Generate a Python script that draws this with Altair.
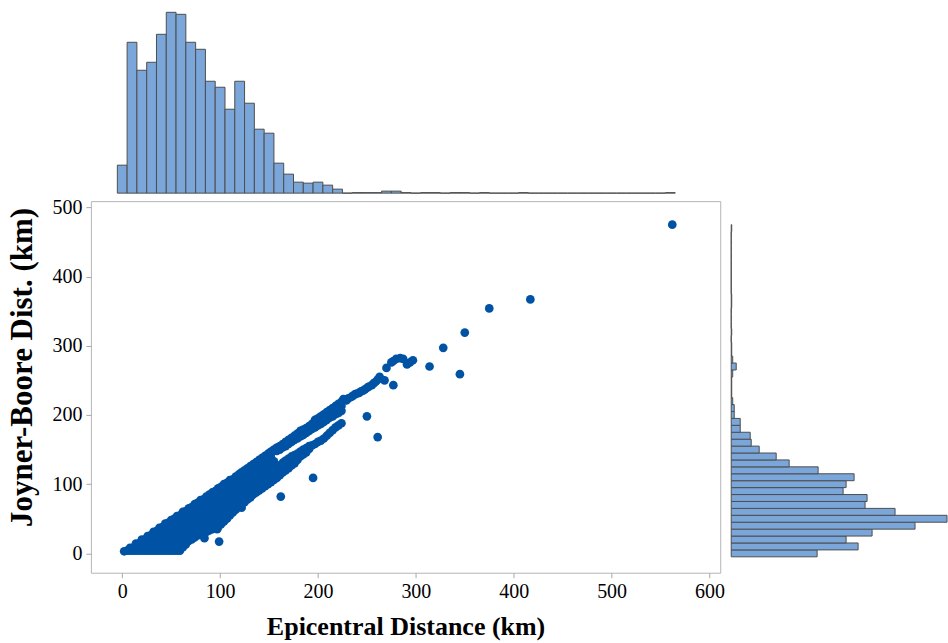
import altair as alt
import pandas as pd

# ---------------- data ----------------
# Dense band of records: epicentral distance column -> Joyner-Boore distances
BAND_REPI = [2, 5, 8, 14, 20, 26, 32, 38, 44, 50, 56, 62, 68, 74, 80, 86, 92, 98,
             104, 110, 116, 122, 128, 134, 140, 146, 152, 158, 164, 170, 176, 182,
             188, 194, 200, 206, 212, 218, 224]
BAND_JB = [
    [3], [4], [4, 8], [4, 10, 14], [4, 11, 18, 20], [4, 11, 18, 25],
    [4, 11, 18, 25, 31], [4, 11, 18, 25, 32, 37], [4, 11, 18, 25, 32, 39, 43],
    [4, 11, 18, 25, 32, 39, 45, 48], [4, 11, 18, 25, 32, 39, 46, 51, 54],
    [9, 16, 23, 30, 37, 44, 51, 56, 60], [18, 25, 32, 39, 46, 53, 60, 65],
    [23, 30, 37, 44, 51, 58, 65, 71], [28, 35, 42, 49, 56, 63, 70, 77],
    [31, 38, 45, 52, 59, 66, 73, 79, 82], [35, 42, 49, 56, 63, 70, 77, 84, 88],
    [38, 45, 52, 59, 66, 73, 80, 87, 94], [46, 53, 60, 67, 74, 81, 88, 95, 100],
    [55, 62, 69, 76, 83, 90, 97, 103, 106], [63, 70, 77, 84, 91, 98, 105, 111],
    [71, 78, 85, 92, 99, 106, 113, 117], [78, 85, 92, 99, 106, 113, 119, 123],
    [85, 92, 99, 106, 113, 120, 126, 129], [91, 98, 105, 112, 119, 126, 131, 135],
    [97, 104, 111, 118, 125, 132, 138, 141], [103, 110, 117, 124, 131, 138, 144, 147],
    [109, 116, 122, 127, 148, 153], [117, 124, 131, 153, 158],
    [123, 130, 137, 158, 164], [130, 137, 142, 164, 170], [140, 147, 169, 177],
    [146, 152, 174, 181], [156, 180, 187], [161, 185, 191, 195],
    [166, 190, 196, 201], [174, 196, 202, 207], [182, 201, 207, 213],
    [188, 206, 213, 219],
]
# Records lying between the columns above (fill the dense core)
CORE_REPI = [11, 17, 23, 29, 35, 41, 47, 53, 59, 65, 71, 77, 83, 89, 95, 101,
             107, 113, 119, 125, 131, 137, 143, 149, 155, 161, 167, 173, 179,
             185, 191, 197, 203, 209, 215, 221]
CORE_JB = [
    [4, 8], [4, 8, 14], [4, 8, 14, 20], [4, 8, 14, 21, 26], [4, 8, 14, 21, 28, 32],
    [4, 8, 14, 21, 28, 35, 38], [4, 8, 14, 21, 28, 35, 42, 44],
    [4, 8, 14, 21, 28, 35, 42, 48, 50], [4, 8, 14, 21, 28, 35, 42, 49, 55],
    [13, 20, 27, 34, 41, 48, 55, 61], [20, 27, 34, 41, 48, 55, 62, 67],
    [26, 33, 40, 47, 54, 61, 68, 73], [29, 36, 43, 50, 57, 64, 71, 78],
    [33, 40, 47, 54, 61, 68, 75, 82, 85], [36, 43, 50, 57, 64, 71, 78, 85, 90],
    [42, 49, 56, 63, 70, 77, 84, 91, 96], [50, 57, 64, 71, 78, 85, 92, 99, 102],
    [59, 66, 73, 80, 87, 94, 101, 107], [67, 74, 81, 88, 95, 102, 109, 114],
    [74, 81, 88, 95, 102, 109, 116, 120], [81, 88, 95, 102, 109, 116, 123, 126],
    [88, 95, 102, 109, 116, 123, 129, 132], [94, 101, 108, 115, 122, 129, 135, 138],
    [100, 107, 114, 121, 128, 135, 141, 144], [106, 113, 120, 127, 133, 150],
    [113, 120, 126, 150, 155], [120, 127, 134, 155, 161], [127, 134, 140, 161, 167],
    [135, 144, 166, 173], [143, 150, 171, 179], [151, 155, 177, 184],
    [158, 182, 189, 193], [163, 187, 194, 198], [170, 193, 199, 204],
    [178, 198, 205, 210], [185, 203, 210, 216],
]
# Upper strand beyond the dense band
STRAND_REPI = [226, 229, 231, 234, 236, 238, 240, 242, 244, 246, 248, 250, 252,
               255, 257, 259, 261, 263, 268, 277, 270, 275, 277, 280, 284, 287,
               291, 294, 297]
STRAND_JB = [223, 221, 224, 226, 228, 230, 231, 232, 234, 235, 237, 239, 241,
             243, 246, 248, 251, 255, 250, 243, 268, 276, 278, 281, 282, 281,
             273, 276, 279]
# Isolated records
OUTLIER_REPI = [314, 328, 345, 350, 375, 417, 562, 250, 261, 195, 162, 99, 84, 97, 122]
OUTLIER_JB = [270, 297, 259, 319, 354, 367, 475, 198, 168, 109, 82, 17, 22, 35, 66]

# Marginal histograms (10-km bins centred on multiples of 10)
REPI_BIN_CENTERS = list(range(0, 570, 10))
REPI_COUNTS = [56, 302, 246, 262, 318, 362, 358, 302, 288, 224,
               212, 168, 224, 180, 128, 120, 60, 38, 22, 20,
               22, 16, 8, 0, 1, 1, 1, 4, 4, 1,
               0, 1, 1, 0, 1, 1, 0, 1, 0, 0,
               0, 1, 0, 0, 0, 0, 0, 0, 0, 0,
               0, 0, 0, 0, 0, 0, 1]
JB_BIN_CENTERS = list(range(0, 480, 10))
JB_COUNTS = [172, 254, 230, 282, 368, 432, 328, 268, 272, 224,
             230, 246, 174, 116, 90, 56, 40, 38, 18, 18,
             6, 6, 3, 1, 1, 1, 3, 10, 3, 1,
             1, 0, 1, 0, 0, 0, 1, 1, 0, 0,
             0, 0, 0, 0, 0, 0, 0, 1]

# ---------------- tables ----------------
rows = []
for r, jbs in zip(BAND_REPI, BAND_JB):
    for j in jbs:
        rows.append((r, j))
for r, jbs in zip(CORE_REPI, CORE_JB):
    for j in jbs:
        rows.append((r, j))
rows += list(zip(STRAND_REPI, STRAND_JB))
rows += list(zip(OUTLIER_REPI, OUTLIER_JB))
scatter_df = pd.DataFrame(rows, columns=["repi", "jb"])

top_df = pd.DataFrame({"c": REPI_BIN_CENTERS, "count": REPI_COUNTS})
top_df["lo"] = top_df["c"] - 5
top_df["hi"] = top_df["c"] + 5
top_df["zero"] = 0

right_df = pd.DataFrame({"c": JB_BIN_CENTERS, "count": JB_COUNTS})
right_df["lo"] = right_df["c"] - 5
right_df["hi"] = right_df["c"] + 5
right_df["zero"] = 0

# ---------------- styling ----------------
SERIF = "Liberation Serif"
BLUE = "#0053a4"
HIST_FILL = "#7ba6da"
HIST_EDGE = "#4d4d4d"

x_scale = alt.Scale(domain=[-32, 611], nice=False, zero=False)
y_scale = alt.Scale(domain=[-28, 509], nice=False, zero=False)

axis_common = dict(
    grid=False, domain=False, tickColor="#a8a8a8", tickSize=5, labelPadding=4,
    labelFont=SERIF, labelFontSize=20, labelColor="black", labelFlush=False,
    titleFont=SERIF, titleFontWeight="bold", titleColor="black",
)

main = alt.Chart(scatter_df).mark_circle(size=76, opacity=1, color=BLUE).encode(
    x=alt.X("repi:Q", scale=x_scale,
            axis=alt.Axis(values=[0, 100, 200, 300, 400, 500, 600],
                          title="Epicentral Distance (km)", titleFontSize=26,
                          titlePadding=12, **axis_common)),
    y=alt.Y("jb:Q", scale=y_scale,
            axis=alt.Axis(values=[0, 100, 200, 300, 400, 500],
                          title="Joyner-Boore Dist. (km)", titleFontSize=31,
                          titlePadding=13, titleY=166, **axis_common)),
).properties(width=630, height=372,
             view=alt.ViewConfig(stroke="#b5b5b5", strokeWidth=1))

top = alt.Chart(top_df).mark_rect(fill=HIST_FILL, stroke=HIST_EDGE, strokeWidth=1).encode(
    x=alt.X("lo:Q", scale=x_scale, axis=None),
    x2="hi:Q",
    y=alt.Y("zero:Q", scale=alt.Scale(domain=[0, 384], nice=False), axis=None),
    y2="count:Q",
).properties(width=630, height=192, view=alt.ViewConfig(stroke="transparent"))

right = alt.Chart(right_df).mark_rect(fill=HIST_FILL, stroke=HIST_EDGE, strokeWidth=1).encode(
    y=alt.Y("lo:Q", scale=y_scale, axis=None),
    y2="hi:Q",
    x=alt.X("zero:Q", scale=alt.Scale(domain=[0, 432], nice=False), axis=None),
    x2="count:Q",
).properties(width=216, height=372, view=alt.ViewConfig(stroke="transparent"))

bottom = alt.hconcat(main, right, spacing=11, bounds="flush").resolve_scale(
    x="independent", y="independent")

chart = alt.vconcat(top, bottom, spacing=8, bounds="flush").resolve_scale(
    x="independent", y="independent"
).properties(
    padding={"left": 6, "top": 0, "right": 0, "bottom": 0},
    background="white",
)

chart.save("out.html", embed_options={"renderer": "svg", "actions": False})
